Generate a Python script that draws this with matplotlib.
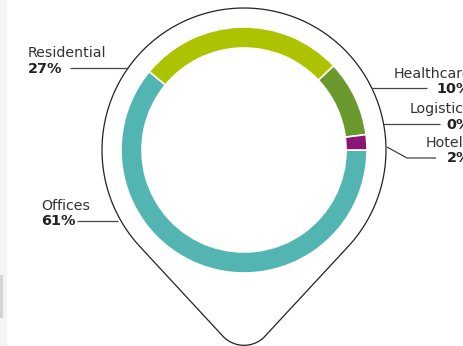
import numpy as np
import matplotlib
matplotlib.use('Agg')
import matplotlib.pyplot as plt
from matplotlib.path import Path
from matplotlib.patches import PathPatch, Rectangle

# data
categories = ['Offices', 'Residential', 'Healthcare', 'Logistics', 'Hotels']
shares = [61, 27, 10, 0, 2]
colors = ['#52B5B2', '#ADC300', '#6A9A2E', '#8C8C8C', '#8C1675']

# label layout (pixel coords, y down)
label_pos = {
    'Residential': (28, 57, 73, 'left'),
    'Offices': (41, 210, 225, 'left'),
    'Healthcare': (471, 78, 93, 'right'),
    'Logistics': (471, 113, 129, 'right'),
    'Hotels': (471, 147, 162, 'right'),
}
leaders = {
    'Residential': [(70, 68), (128, 68)],
    'Offices': [(77, 221), (118, 221)],
    'Healthcare': [(372, 88), (427, 88)],
    'Logistics': [(383, 124), (440, 124)],
    'Hotels': [(387, 147), (407, 158), (436, 158)],
}

W, H = 463, 346
fig = plt.figure(figsize=(W / 100, H / 100), dpi=100)
ax = fig.add_axes([0, 0, 1, 1])

cx, cy = 244, 150

# donut (y axis inverted -> counterclock draws clockwise on screen)
vals = [v for v in shares if v > 0]
cols = [c for v, c in zip(shares, colors) if v > 0]
ax.pie(vals, colors=cols, startangle=0, counterclock=True,
       center=(cx, cy), radius=123,
       wedgeprops=dict(width=21, edgecolor='white', linewidth=1.2))

# pin outline: big circle + tangents + rounded tip
R = 142
tip_y = 359
r_tip = 29
d = tip_y - cy
a = np.arcsin(R / d)           # half angle at tip
t_right = a                    # screen angles, y down (90deg = straight down)
t_left = np.pi - a
pts = [(cx + R * np.cos(t), cy + R * np.sin(t))
       for t in np.linspace(t_left, t_right + 2 * np.pi, 240)]
tc_y = tip_y - r_tip / np.sin(a)
tip_pts = [(cx + r_tip * np.cos(t), tc_y + r_tip * np.sin(t))
           for t in np.linspace(t_right, t_left, 60)]
outline = pts + tip_pts + [pts[0]]
ax.add_patch(PathPatch(Path(outline), facecolor='none', edgecolor='#222222', lw=0.9))

# leader lines
for name, seg in leaders.items():
    xs, ys = zip(*seg)
    ax.plot(xs, ys, color='#444444', lw=0.9, solid_capstyle='butt')

# labels
for name, v in zip(categories, shares):
    x, y1, y2, ha = label_pos[name]
    ax.text(x, y1, name, ha=ha, va='baseline', fontsize=10.2, color='#333333')
    ax.text(x, y2, '{}%'.format(v), ha=ha, va='baseline', fontsize=10.4,
            fontweight='bold', color='#222222')

# left page edge
ax.add_patch(Rectangle((0, 0), 7, H, color='#f4f4f4', lw=0, zorder=0))
ax.add_patch(Rectangle((0, 275), 3, 43, color='#d4d4d4', lw=0, zorder=0))

ax.set_xlim(0, W)
ax.set_ylim(H, 0)
ax.set_aspect('auto')
ax.axis('off')

fig.savefig('out.png', dpi=100)
